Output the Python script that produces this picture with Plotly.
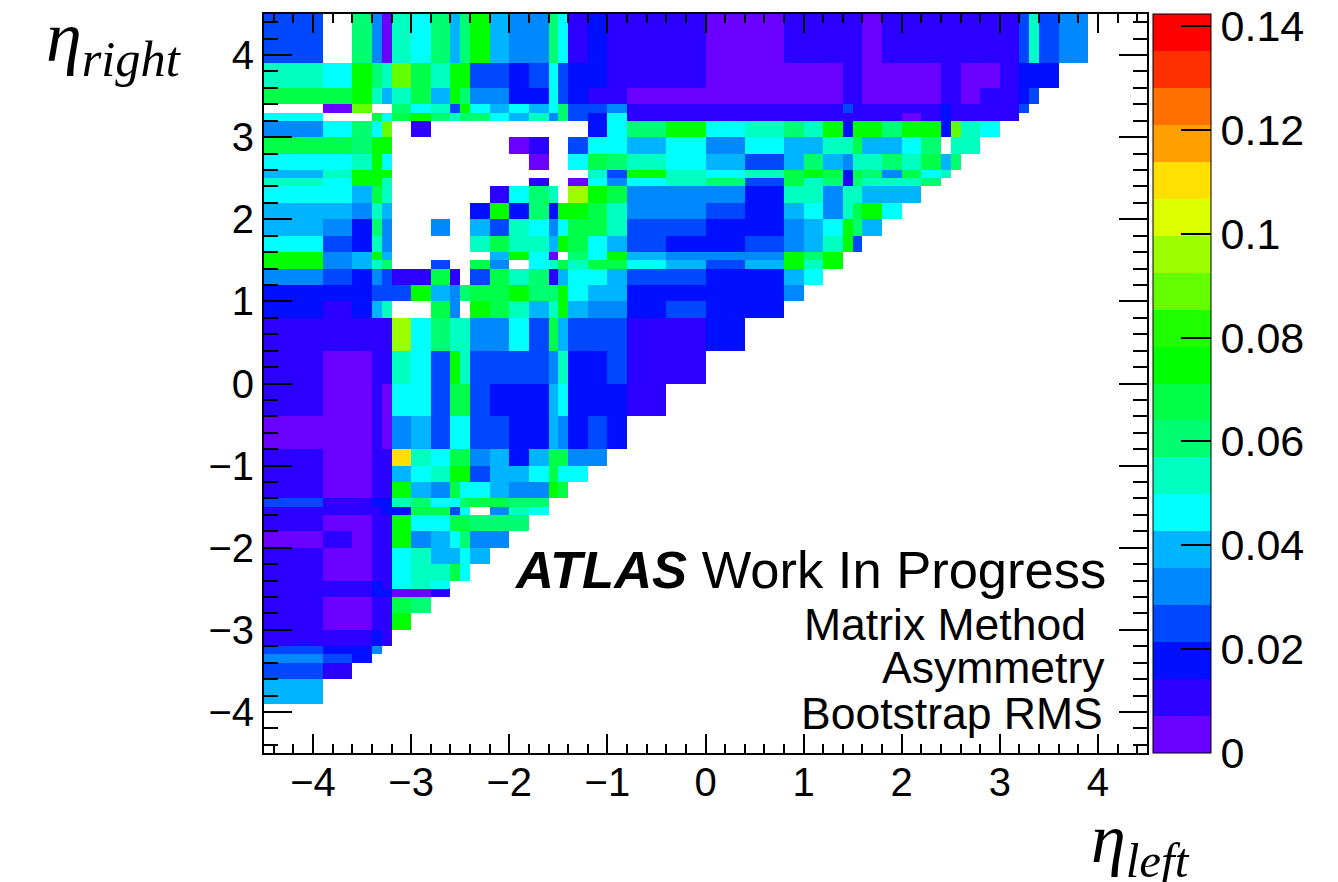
import plotly.graph_objects as go

N = None
eta_edges = [-4.5,-3.9,-3.6,-3.4,-3.3,-3.2,-3.0,-2.8,-2.6,-2.5,-2.4,-2.2,-2.0,-1.8,-1.6,-1.5,-1.4,-1.2,-1.0,-0.8,-0.4,0,
             0.4,0.8,1.0,1.2,1.4,1.5,1.6,1.8,2.0,2.2,2.4,2.5,2.6,2.8,3.0,3.2,3.3,3.4,3.6,3.9,4.5]
palette = ["#6a00ff","#2b00ff","#0010ff","#0048ff","#0088ff","#00b4ff","#00ffff","#00ffc0","#00ff70","#00ff48",
           "#00ff00","#20ff00","#64ff00","#9cff00","#dcff00","#ffe000","#ffa000","#ff7000","#ff3000","#ff0000"]
z_top = 0.1423
cbar_ticks = [0,0.02,0.04,0.06,0.08,0.1,0.12,0.14]
cbar_text = ["0","0.02","0.04","0.06","0.08","0.1","0.12","0.14"]
axis_ticks = [-4,-3,-2,-1,0,1,2,3,4]
axis_text = ["\u22124","\u22123","\u22122","\u22121","0","1","2","3","4"]

row_01 = [.039]
row_02 = [.025,.011]
row_03 = [.032,.025,.018]
row_04 = [.025,.018,.018,.032]
row_05 = [.011,.011,.011,.018,.011]
row_06 = [.011,.004,.004,.011,.011,.075]
row_07 = [.011,.004,.004,.011,.011,.068,.060]
row_08 = [.011,.011,.011,.018,.018,.004,.004,.011]
row_09 = [.011,.011,.011,.018,.011,.046,.053,.046,N]
row_10 = [.011,.004,.004,.011,.011,.046,.053,.053,.068,.046]
row_11 = [.011,.004,.004,.011,.011,.046,.053,.039,.039,.046,.039]
row_12 = [.004,.011,.004,.011,.011,.075,.032,.039,.046,.060,.032,.032]
row_13 = [.011,.004,.004,.011,.011,.075,.046,.046,.068,.068,.060,.060,.060]
row_14 = [.011,.011,.011,.011,.018,.018,.068,.068,.025,.046,N,.032,.053,.046]
row_15 = [.025,.011,.011,.018,.018,.053,.060,.046,.046,.060,.068,.068,.060,.060,N]
row_16 = [.011,.004,.004,.011,.011,.075,.039,.032,.068,.046,.046,.039,.032,.032,.075,.068]
row_17 = [.011,.004,.004,.011,.011,.039,.046,.053,.075,.075,.025,.039,.039,.046,.068,.046,.046]
row_18 = [.011,.004,.004,.011,.011,.110,.053,.046,.068,.068,.032,.039,.018,.039,.068,.068,.032,.032]
row_19 = [.004,.004,.004,.011,.004,.032,.039,.025,.046,.046,.025,.025,.018,.018,.039,.032,.018,.025,.018]
row_20 = [.011,.004,.004,.011,.004,.046,.046,.025,.068,.068,.025,.018,.018,.018,.039,.046,.018,.018,.018,.011]
row_21 = [.011,.004,.004,.011,.011,.053,.046,.025,.075,.053,.025,.025,.025,.025,.032,.053,.018,.018,.025,.011,.011]
row_22 = [.011,.011,.011,.011,.011,.096,.046,.060,.053,.053,.032,.032,.046,.025,.068,.039,.025,.025,.025,.011,.011,.018]
row_23 = [.018,.011,.018,.039,.053,N,N,.068,.032,N,.075,.068,.053,.039,.053,.075,.039,.032,.032,.018,.025,.018,.018]
row_24 = [.018,.018,.018,.025,.025,.025,.075,.039,.032,.060,.068,.068,.075,.060,.060,.075,.046,.039,.039,.018,.018,.018,.018,.032]
row_25 = [.032,.025,.018,.032,.025,.011,.011,.068,.011,N,.025,.068,.053,.060,.011,.039,.046,.046,.039,.025,.025,.018,.018,.039,.046]
row_26 = [.075,.032,.039,.053,.060,N,N,.025,N,N,.068,.032,N,.046,.053,.068,.053,.068,.068,.046,.039,.025,.039,.075,.053,.075]
row_27 = [.075,.032,.039,.075,.039,N,N,N,N,N,N,.039,.075,.046,.004,N,.060,.046,.075,.039,.032,.032,.032,.075,.060,.075,N]
row_28 = [.046,.025,.018,.053,.032,N,N,N,N,N,.053,.068,.053,.053,.039,.075,.068,.046,.039,.025,.018,.018,.025,.032,.039,.053,.075,.025]
row_29 = [.039,.032,.018,.060,.032,N,N,.032,N,N,.039,.025,.053,.046,.032,.046,.068,.068,.053,.025,.025,.018,.018,.032,.039,.046,.075,.060,.039]
row_30 = [.039,.039,.032,.053,.039,N,N,N,N,N,.018,.075,.018,.060,.018,.075,.075,.068,.053,.032,.032,.025,.018,.039,.046,.032,.053,.068,.075,.046]
row_31 = [.046,.046,.039,.068,.053,N,N,N,N,N,N,.011,.046,.060,.053,N,.096,.075,.068,.032,.032,.032,.018,.053,.053,.032,.053,.053,.039,.039,.039]
row_32 = [.053,.046,.075,.075,.053,N,N,N,N,N,N,N,N,.011,N,N,.004,.046,.032,.046,.053,.060,.025,.068,.053,.060,.011,.060,.053,.053,.053,.060]
row_33 = [.039,.053,.075,.075,.075,N,N,N,N,N,N,N,N,N,N,N,N,.053,.025,.075,.053,.046,.053,.068,.075,.068,.018,.068,.060,.032,.068,.046,.053]
row_34 = [.046,.046,.053,.075,.046,N,N,N,N,N,N,N,N,.004,N,N,.046,.068,.060,.053,.046,.039,.025,.039,.060,.039,.032,.053,.053,.060,.053,.068,.039,.060]
row_35 = [.068,.068,.060,.075,.075,N,N,N,N,N,N,N,.004,.011,N,N,.025,.046,.046,.039,.046,.032,.046,.039,.039,.053,.053,.068,.039,.039,.046,.060,N,.053,.053]
row_36 = [.032,.046,.060,.046,.089,N,.011,N,N,N,N,N,N,N,N,N,N,.018,.046,.060,.075,.046,.053,.060,.053,.075,.018,.075,.075,.060,.075,.075,.018,.089,.053,.046]
row_37 = [.046,N,N,.068,.046,.068,.075,.060,.053,.060,.060,.046,.039,.053,.032,.060,.025,.018,.046,.011,.011,.011,.011,.011,.011,.011,.011,.011,.011,.011,.004,.011,.018,.011,.011,.011,.011]
row_38 = [N,.004,.089,N,N,.060,.046,.053,.025,.075,.046,.039,.046,.039,.046,.060,.025,.025,.032,.011,.011,.011,.011,.011,.011,.011,.025,.011,.011,.011,.011,.011,.018,.011,.011,.011,.011,.025]
row_39 = [.068,.068,.075,.053,.039,.053,.068,.039,.075,.060,.032,.032,.018,.018,.046,.025,.018,.011,.011,.004,.004,.004,.004,.004,.004,.004,.011,.011,.004,.004,.004,.004,.011,.011,.004,.011,.011,.018,.025]
row_40 = [.053,.046,.075,.060,.053,.089,.068,.053,.075,.075,.025,.025,.018,.025,.046,.025,.018,.018,.011,.011,.011,.004,.004,.004,.004,.004,.011,.011,.004,.004,.004,.004,.011,.011,.004,.004,.011,.018,.018,.018]
row_41 = [.025,N,.060,.032,.004,.053,.046,.060,.039,.060,.075,.039,.032,.032,.060,.046,.011,.018,.011,.011,.011,.004,.004,.011,.011,.011,.011,.011,.004,.011,.011,.011,.011,.011,.011,.011,.011,.025,.053,.025,.032]

rows = [row_01,row_02,row_03,row_04,row_05,row_06,row_07,row_08,row_09,row_10,row_11,row_12,row_13,row_14,
        row_15,row_16,row_17,row_18,row_19,row_20,row_21,row_22,row_23,row_24,row_25,row_26,row_27,row_28,
        row_29,row_30,row_31,row_32,row_33,row_34,row_35,row_36,row_37,row_38,row_39,row_40,row_41]
n = len(eta_edges) - 1
z = [[None] * n] + [r + [None] * (n - len(r)) for r in rows]

scale = []
for k, c in enumerate(palette):
    scale += [[k / len(palette), c], [(k + 1) / len(palette), c]]

fig = go.Figure(go.Heatmap(
    x=eta_edges, y=eta_edges, z=z, zmin=0, zmax=z_top, colorscale=scale, hoverongaps=False,
    colorbar=dict(
        x=1.0068, xanchor="left", xpad=0, y=0.5, yanchor="middle", ypad=0, len=1, lenmode="fraction",
        thickness=58, thicknessmode="pixels", outlinewidth=1, outlinecolor="#000000", borderwidth=0,
        tickmode="array", tickvals=cbar_ticks, ticktext=cbar_text, ticks="inside", ticklen=30, tickwidth=2,
        tickcolor="#000000", tickfont=dict(family="Liberation Sans", size=43, color="#000000"),
    ),
))

ann_font = dict(family="Liberation Sans", color="#000000")
annotations = [
    dict(x=4.10, y=-2.26, xref="x", yref="y", xanchor="right", yanchor="middle", showarrow=False,
         text="<b><i>ATLAS</i></b> Work In Progress", font=dict(size=52.5, **ann_font)),
    dict(x=3.90, y=-2.93, xref="x", yref="y", xanchor="right", yanchor="middle", showarrow=False,
         text="Matrix Method", font=dict(size=44.5, **ann_font)),
    dict(x=4.09, y=-3.46, xref="x", yref="y", xanchor="right", yanchor="middle", showarrow=False,
         text="Asymmetry", font=dict(size=44.5, **ann_font)),
    dict(x=4.07, y=-4.02, xref="x", yref="y", xanchor="right", yanchor="middle", showarrow=False,
         text="Bootstrap RMS", font=dict(size=44.5, **ann_font)),
    dict(x=-0.0906, y=0.962, xref="paper", yref="paper", xanchor="right", yanchor="middle", showarrow=False,
         text="<i>\u03b7<sub>right</sub></i>", font=dict(family="Liberation Serif", size=72, color="#000000")),
    dict(x=1.0510, y=-0.123, xref="paper", yref="paper", xanchor="right", yanchor="middle", showarrow=False,
         text="<i>\u03b7<sub>left</sub></i>", font=dict(family="Liberation Serif", size=70, color="#000000")),
]

axis_common = dict(
    range=[-4.5, 4.5], tickmode="array", tickvals=axis_ticks, ticktext=axis_text, showgrid=False, zeroline=False,
    showline=True, linecolor="#000000", linewidth=2, mirror="ticks", ticks="inside", tickcolor="#000000", tickwidth=2,
    tickfont=dict(family="Liberation Sans", size=40, color="#000000"),
)
fig.update_layout(
    width=1338, height=882, autosize=False,
    margin=dict(l=264, r=191, t=14, b=129, pad=0, autoexpand=False),
    paper_bgcolor="#ffffff", plot_bgcolor="#ffffff",
    xaxis=dict(ticklen=19, ticklabelstandoff=-7, minor=dict(ticks="inside", ticklen=9, tickwidth=2, tickcolor="#000000", dtick=0.2, tick0=0, showgrid=False), **axis_common),
    yaxis=dict(ticklen=28, minor=dict(ticks="inside", ticklen=14, tickwidth=2, tickcolor="#000000", dtick=0.2, tick0=0, showgrid=False), **axis_common),
    annotations=annotations,
)
fig.write_html("out.html", config=dict(displayModeBar=False),
               post_script="document.body.style.margin='0';document.body.style.overflow='hidden';")
